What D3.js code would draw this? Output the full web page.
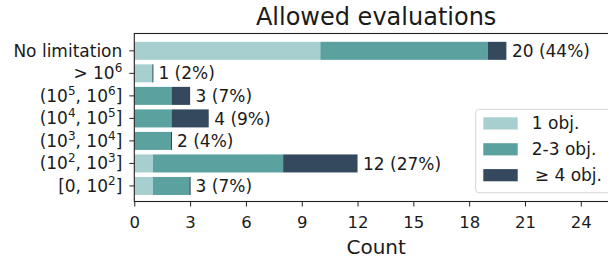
<!DOCTYPE html>
<html>
<head>
<meta charset="utf-8">
<script src="https://cdn.jsdelivr.net/npm/d3@7"></script>
<style>
  body { margin: 0; background: #fff; }
  text { font-family: "DejaVu Sans", sans-serif; fill: #1a1a1a; }
</style>
</head>
<body>
<div id="chart"></div>
<script>
// categories, bottom to top
var categories = ["[0,10^2]", "(10^2,10^3]", "(10^3,10^4]", "(10^4,10^5]", "(10^5,10^6]", ">10^6", "No limitation"]
var one_obj  = [1, 1, 0, 0, 0, 1, 10]
var two_obj  = [2, 7, 2, 2, 2, 0, 9]
var four_obj = [0, 4, 0, 2, 1, 0, 1]
var series_names = ["1 obj.", "2-3 obj.", "\u2265 4 obj."]
var colors = ["#a8cfd0", "#5aa19f", "#34495e"]
var x_ticks = [0, 3, 6, 9, 12, 15, 18, 21, 24]

var width = 608
var height = 258
var ax_left = 134.3, ax_right = 618, ax_top = 33.5, ax_bottom = 201.5

var svg = d3.select("#chart").append("svg")
  .attr("width", width)
  .attr("height", height)

var x = d3.scaleLinear().domain([0, 26]).range([ax_left, ax_right])
var y = d3.scaleLinear().domain([-0.69, 6.77]).range([ax_bottom, ax_top])
var band = y(0) - y(0.8)

var totals = categories.map((c, i) => one_obj[i] + two_obj[i] + four_obj[i])
var grand = d3.sum(totals)

var rows = categories.map((c, i) => ({cat: i, vals: [one_obj[i], two_obj[i], four_obj[i]]}))
var stack = d3.stack().keys([0, 1, 2]).value((d, k) => d.vals[k])(rows)

// bars
svg.append("g")
  .selectAll("g")
  .data(stack)
  .enter().append("g")
    .style("fill", (d, k) => colors[k])
  .selectAll("rect")
  .data(d => d)
  .enter().append("rect")
    .attr("x", d => x(d[0]))
    .attr("y", d => y(d.data.cat + 0.4))
    .attr("width", d => x(d[1]) - x(d[0]))
    .attr("height", band)

// zero width top segments still show an edge
svg.append("g")
  .selectAll("line")
  .data(stack[2].filter(d => d[1] - d[0] == 0))
  .enter().append("line")
    .attr("x1", d => x(d[1])).attr("x2", d => x(d[1]))
    .attr("y1", d => y(d.data.cat + 0.4))
    .attr("y2", d => y(d.data.cat - 0.4))
    .style("stroke", colors[2])
    .style("stroke-width", 1)

// value labels
svg.append("g")
  .selectAll("text")
  .data(totals)
  .enter().append("text")
    .attr("x", d => x(d) + 5.5)
    .attr("y", (d, i) => y(i))
    .attr("dy", "0.36em")
    .style("font-size", "17px")
    .text(d => d + " (" + Math.round(d / grand * 100) + "%)")

// frame
svg.append("rect")
  .attr("x", ax_left).attr("y", ax_top)
  .attr("width", ax_right - ax_left).attr("height", ax_bottom - ax_top)
  .style("fill", "none").style("stroke", "#222").style("stroke-width", 1.1)

// x axis
var xAxis = svg.append("g")
  .attr("transform", "translate(0," + ax_bottom + ")")
  .call(d3.axisBottom(x).tickValues(x_ticks).tickSize(5))
xAxis.select(".domain").remove()
xAxis.selectAll("line").style("stroke", "#222")
xAxis.selectAll("text")
  .attr("y", 26.5).attr("dy", null)
  .style("font-size", "16.5px").style("font-family", "DejaVu Sans").style("fill", "#1a1a1a")

svg.append("text")
  .attr("x", (ax_left + ax_right) / 2)
  .attr("y", 254)
  .attr("text-anchor", "middle")
  .style("font-size", "20px")
  .text("Count")

// y axis, labels with superscripts
var yg = svg.append("g")
yg.selectAll("line")
  .data(categories)
  .enter().append("line")
    .attr("x1", ax_left - 5).attr("x2", ax_left)
    .attr("y1", (d, i) => y(i)).attr("y2", (d, i) => y(i))
    .style("stroke", "#222")

var ylab = yg.selectAll("text")
  .data(categories)
  .enter().append("text")
    .attr("x", ax_left - 12)
    .attr("y", (d, i) => y(i) + 6)
    .attr("text-anchor", "end")
    .style("font-size", "17px")

ylab.each(function(d) {
  var t = d3.select(this)
  var parts = d.split(/(\^\d)/)
  parts.forEach(function(p) {
    if (p == "") return
    if (p[0] == "^") {
      t.append("tspan")
        .attr("baseline-shift", "7")
        .style("font-size", "12px")
        .text(p.slice(1))
    } else {
      p = p.replace(",", ", ").replace(">", "> ")
      t.append("tspan").text(p)
    }
  })
})

// title
svg.append("text")
  .attr("x", (ax_left + ax_right) / 2)
  .attr("y", 25)
  .attr("text-anchor", "middle")
  .style("font-size", "24px")
  .text("Allowed evaluations")

// legend
var lg = svg.append("g").attr("transform", "translate(475.7,109.3)")
lg.append("rect")
  .attr("width", 150).attr("height", 83.4)
  .attr("rx", 3)
  .style("fill", "#fff").style("fill-opacity", 0.8)
  .style("stroke", "#d5d5d5").style("stroke-width", 1)

var items = lg.selectAll("g.item")
  .data(series_names)
  .enter().append("g")
    .attr("transform", (d, i) => "translate(7.6," + (8 + i * 25.9) + ")")
items.append("rect")
  .attr("width", 34.4).attr("height", 12.2)
  .style("fill", (d, i) => colors[i])
items.append("text")
  .attr("x", (d, i) => i == 2 ? 51.5 : 48.5)
  .attr("y", 6)
  .attr("dy", "0.36em")
  .style("font-size", "17px")
  .text(d => d)
</script>
</body>
</html>
